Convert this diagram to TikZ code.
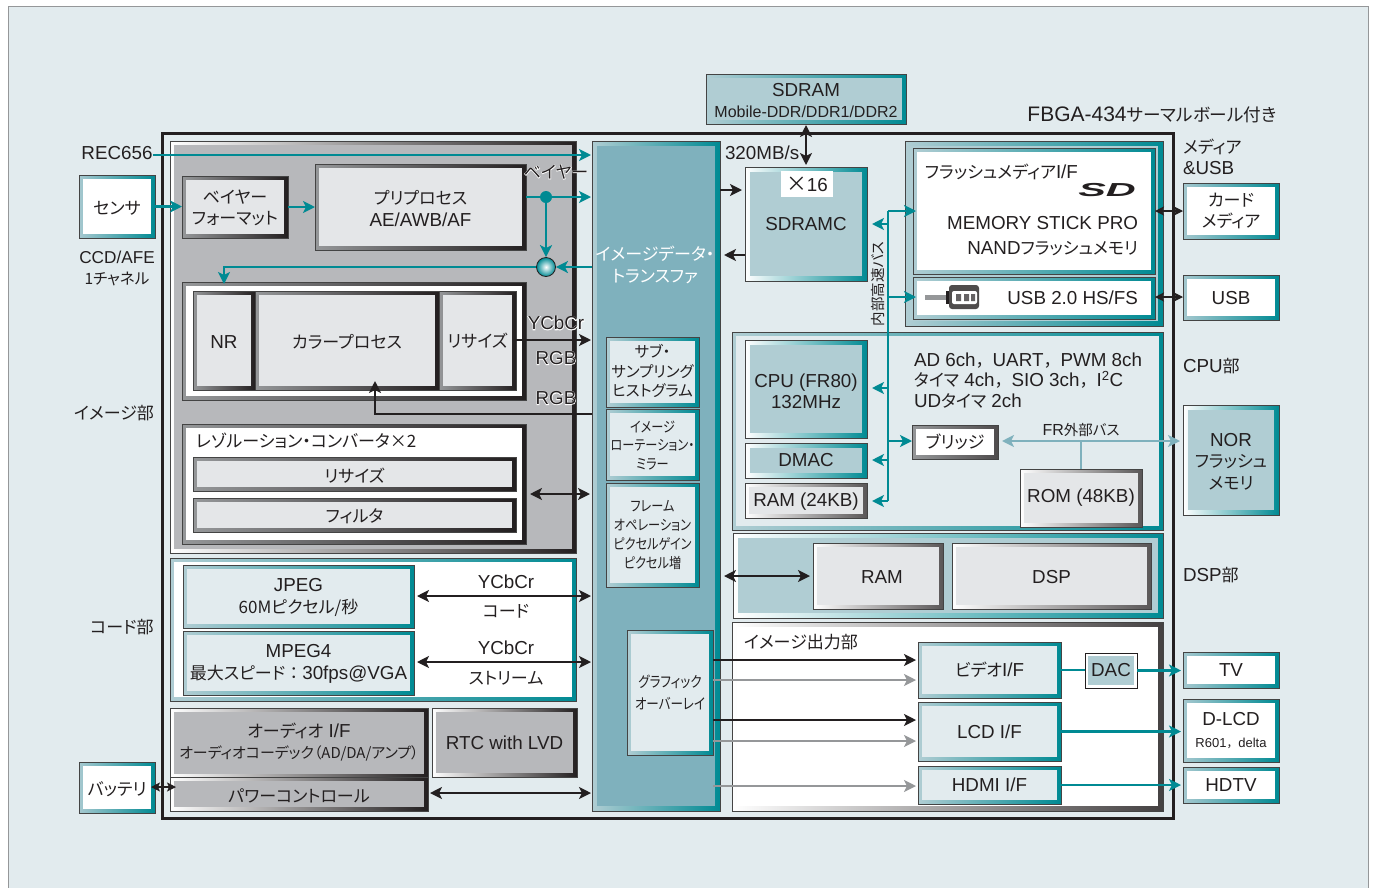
\documentclass[tikz,border=0pt]{standalone}
\usepackage{fontspec}
\usetikzlibrary{arrows.meta,calc}
\setmainfont{Liberation Sans}
\newfontfamily\jpf[Scale=0.905,RawFeature=+palt]{Noto Sans CJK JP}
\newfontfamily\jpw[Scale=0.905]{Noto Sans CJK JP}
\newfontfamily\jpc[Scale=0.905,FakeStretch=0.84,RawFeature=+palt]{Noto Sans CJK JP}
\newfontfamily\haloL[FakeBold=6]{Liberation Sans}
\newfontfamily\haloJ[Scale=0.905,FakeBold=6,RawFeature=+palt]{Noto Sans CJK JP}
\newcommand\J[1]{{\jpf #1}}
\newcommand\JW[1]{{\jpw #1}}
\newcommand\JC[1]{{\jpc #1}}
\newcommand\fa{\fontsize{18.8}{21.5}\selectfont}
\newcommand\fb{\fontsize{16}{20}\selectfont}
\newcommand\fd{\fontsize{17}{19.5}\selectfont}
\newcommand\fe{\fontsize{16}{18.8}\selectfont}
\newcommand\ff{\fontsize{16.5}{21.5}\selectfont}
\newcommand\haloLat[1]{\rlap{\color{white}\haloL #1}#1}
\newcommand\haloJp[1]{\rlap{\color{white}\haloJ #1}{\jpf #1}}
\definecolor{pagebg}{HTML}{E2EBEE}
\definecolor{tealD}{HTML}{008A93}
\definecolor{tealM}{HTML}{7FB1BD}
\definecolor{tealP}{HTML}{B0CDD3}
\definecolor{tealL}{HTML}{A5C8CF}
\definecolor{ink}{HTML}{231F20}
\definecolor{grayB}{HTML}{B7B8BB}
\definecolor{grayL}{HTML}{E4E6E8}
\definecolor{grayA}{HTML}{959799}
\definecolor{edge}{HTML}{444444}
\gdef\bxfont{\fa}\gdef\bxdy{1.5}\gdef\bxdx{0}
\tikzset{
 tf/.code={\gdef\bxfont{#1}},
 dy/.code={\gdef\bxdy{#1}},
 dx/.code={\gdef\bxdx{#1}},
 box/.style={rectangle,inner sep=0pt,outer sep=0pt,draw=edge,line width=.6pt},
 bev/.style n args={4}{left color=#1,right color=#2,
   path picture={\fill[#3] ([shift={(#4pt,#4pt)}]path picture bounding box.south west) rectangle ([shift={(-#4pt,-#4pt)}]path picture bounding box.north east);}},
 sensorbox/.style={bev={tealL}{tealD}{white}{4}},
 wtbox/.style={bev={white}{tealD}{tealP}{5}},
 ltbox/.style={bev={tealP}{tealD}{tealP}{4}},
 palebox/.style={bev={tealP}{tealD}{pagebg}{4}},
 dkbox/.style={bev={grayA}{ink}{grayL}{4}},
 frbox/.style={bev={grayA}{ink}{white}{4}},
 gybox/.style={bev={white}{ink}{grayB}{4}},
 wdbox/.style={bev={white}{ink!75}{grayL}{4}},
 lb/.style={inner sep=0pt,outer sep=0pt,align=center,font=\fa,text=ink},
 tealar/.style={draw=tealD,line width=2.6pt,-{Stealth[length=12pt,width=12pt,inset=3pt]}},
 tealln/.style={draw=tealD,line width=2.6pt},
 dkar/.style={draw=ink,line width=2.6pt,-{Stealth[length=12pt,width=12pt,inset=3pt]}},
 dkdbl/.style={draw=ink,line width=2.6pt,{Stealth[length=12pt,width=12pt,inset=3pt]}-{Stealth[length=12pt,width=12pt,inset=3pt]}},
 thindbl/.style={draw=ink,line width=1.2pt,{Stealth[length=9pt,width=9pt,inset=2pt]}-{Stealth[length=9pt,width=9pt,inset=2pt]}},
 gyar/.style={draw=grayA,line width=2.6pt,-{Stealth[length=12pt,width=12pt,inset=3pt]}},
 frbus/.style={draw=tealM,line width=2.4pt},
}
\newcommand\bx[7][]{\pgfmathsetmacro\bxW{#5-#3}\pgfmathsetmacro\bxH{#6-#4}\pgfmathsetmacro\bxX{(#3+#5)/2}\pgfmathsetmacro\bxY{(#4+#6)/2}\node[box,#1,minimum width=\bxW pt,minimum height=\bxH pt] (#2) at (\bxX,\bxY) {};\pgfmathsetmacro\bxTX{\bxX+\bxdx}\pgfmathsetmacro\bxTY{\bxY+\bxdy}\node[lb,font=\bxfont] (#2T) at (\bxTX,\bxTY) {#7};\gdef\bxfont{\fa}\gdef\bxdy{1.5}\gdef\bxdx{0}}
\newcommand\lv[2]{\coordinate (#1) at (0,#2);}
\begin{document}
\begin{tikzpicture}[x=1pt,y=-1pt]
\path[use as bounding box,fill=white] (0,0) rectangle (1374,887);
\bx[fill=pagebg,draw=grayA,line width=1pt]{page}{8}{6}{1368}{900}{}
\bx[fill=pagebg,draw=ink,line width=3pt]{chip}{162}{133}{1173}{818}{}
% image section
\bx[gybox]{imgsec}{170}{141}{576}{553}{}
\bx[sensorbox]{sensor}{79}{175}{155}{238}{\J{センサ}}
\bx[dkbox,dy=1]{bfmt}{182}{176}{288}{238}{\J{ベイヤー}\\\J{フォーマット}}
\bx[dkbox]{prep}{315}{164}{526}{250}{\J{プリプロセス}\\AE/AWB/AF}
\bx[frbox]{nrouter}{182}{282}{526}{400}{}
\bx[dkbox]{nr}{193}{291}{255}{390}{NR}
\bx[dkbox]{cp}{255}{291}{439}{390}{\J{カラープロセス}}
\bx[dkbox,dy=0]{rs}{439}{291}{516}{390}{\J{リサイズ}}
\bx[frbox]{resconv}{182}{424}{526}{544}{}
\node[lb,anchor=west] (restitle) at (196,441) {\J{レゾルーション・コンバータ×2}};
\bx[dkbox]{resz}{193}{457}{516}{491}{\J{リサイズ}}
\bx[dkbox]{filt}{193}{498}{516}{532}{\J{フィルタ}}
% code section
\bx[bev={tealP}{tealD}{white}{4}]{codesec}{170}{558}{576}{701}{}
\bx[palebox,dy=1]{jpeg}{183}{565}{414}{628}{JPEG\\\J{60Mピクセル/秒}}
\bx[palebox,dy=1]{mpeg}{183}{631}{414}{695}{MPEG4\\\J{最大スピード}\JW{：}30fps@VGA}
\node[lb] (yc1) at (506,582) {YCbCr};
\node[lb] (codelb) at (506,611) {\J{コード}};
\node[lb] (yc2) at (506,648) {YCbCr};
\node[lb] (strlb) at (506,678) {\J{ストリーム}};
% audio
\bx[gybox,tf={\fontsize{18.8}{21.5}\selectfont},dy=-1]{audio}{170}{708}{428}{778}{\J{オーディオ} I/F\\{\fontsize{16.5}{20}\selectfont\J{オーディオコーデック（AD/DA/アンプ）}}}
\bx[gybox]{power}{170}{777}{428}{811}{\J{パワーコントロール}}
\bx[gybox,dy=0]{rtc}{432}{708}{577}{777}{RTC with LVD}
\bx[sensorbox]{batt}{79}{762}{155}{813}{\J{バッテリ}}
% transfer
\bx[bev={tealP}{tealD}{tealM}{5}]{tr}{592}{141}{720}{811}{}
\node[lb,text=white] (trlb) at (655,265) {\J{イメージデータ・}\\\J{トランスファ}};
\bx[palebox,tf=\fd,dy=-1]{sub}{606}{337}{699}{407}{\J{サブ・}\\\J{サンプリング}\\\J{ヒストグラム}}
\bx[palebox,tf=\fe,dy=1]{rot}{606}{409}{699}{480}{\JC{イメージ}\\\JC{ローテーション・}\\\JC{ミラー}}
\bx[palebox,tf=\fe,dy=0]{frame}{606}{483}{699}{587}{\JC{フレーム}\\\JC{オペレーション}\\\JC{ピクセルゲイン}\\\JC{ピクセル増}}
\bx[palebox,tf=\ff,dy=0]{gfx}{627}{630}{713}{755}{\JC{グラフィック}\\\JC{オーバーレイ}}
% sdram
\bx[ltbox]{sdram}{706}{74}{906}{124}{SDRAM\\{\fb Mobile-DDR/DDR1/DDR2}}
\bx[wtbox,dy=0]{sdc}{745}{167}{867}{281}{SDRAMC}
\bx[fill=white,draw=none,dy=0]{x16}{781}{171}{833}{197}{{\fontsize{23}{23}\selectfont\J{×}}16}
\node[lb,anchor=west] (mbs) at (725,153) {320MB/s};
% media
\bx[bev={tealP}{tealD}{tealP}{5}]{media}{905}{141}{1163}{326}{}
\bx[bev={tealP}{tealD}{white}{4}]{flash}{913}{148}{1155}{274}{}
\bx[bev={tealP}{tealD}{white}{4}]{usbb}{913}{277}{1155}{319}{}
\node[lb,anchor=west] (flif) at (925,172) {\J{フラッシュメディア}I/F};
\node[lb,anchor=center] (sdlogo) at (1107,190) {\scalebox{2.2}[1]{\bfseries\itshape SD}};
\node[lb,anchor=east] (ms) at (1138,223) {MEMORY STICK PRO};
\node[lb,anchor=east] (nand) at (1138,249) {NAND\J{フラッシュメモリ}};
\node[lb,anchor=east] (usbt) at (1138,298) {USB 2.0 HS/FS};
\fill[grayA] (925,295) rectangle (946,300);
\fill[ink] (946,291) rectangle (952,304);
\fill[ink!80,rounded corners=3pt] (949,285) rectangle (979,309);
\fill[white,rounded corners=2pt] (952,291) rectangle (977,304);
\fill[ink!70] (956,294) rectangle (961,301) (964,294) rectangle (969,301) (971,294) rectangle (975,301);
% cpu
\bx[bev={tealP}{tealD}{pagebg}{4}]{cpusec}{732}{332}{1163}{530}{}
\bx[wtbox,dy=2.5]{cpu}{745}{340}{867}{438}{CPU (FR80)\\132MHz}
\bx[wtbox,dy=0]{dmac}{745}{443}{867}{478}{DMAC}
\bx[wdbox,dy=1]{ram24}{745}{483}{867}{518}{RAM (24KB)}
\node[lb,align=left,anchor=north west,font=\fontsize{18.8}{20.5}\selectfont] (periph) at (914,352.5) {AD 6ch\JW{，}UART\JW{，}PWM 8ch\\\J{タイマ} 4ch\JW{，}SIO 3ch\JW{，}I\textsuperscript{2}C\\UD\J{タイマ} 2ch};
\bx[bev={grayA}{ink!80}{white}{4},dy=0]{bridge}{912}{425}{998}{459}{\J{ブリッジ}}
\node[lb,font=\fb] (frbuslb) at (1081,430) {FR\J{外部バス}};
\bx[wdbox,dy=0]{rom}{1020}{469}{1142}{527}{ROM (48KB)}
% dsp
\bx[wtbox]{dspsec}{733}{533}{1163}{618}{}
\bx[wdbox,dx=4]{ramb}{813}{543}{943}{609}{RAM}
\bx[wdbox]{dsp}{952}{543}{1151}{609}{DSP}
% output
\bx[bev={white}{ink!85}{white}{5}]{outsec}{732}{622}{1163}{811}{}
\node[lb,anchor=west] (outlb) at (744,642) {\J{イメージ出力部}};
\bx[palebox,dy=0]{vid}{918}{642}{1061}{698}{\J{ビデオ}I/F}
\bx[palebox,dy=0]{lcd}{918}{702}{1061}{761}{LCD I/F}
\bx[palebox,dy=0]{hdmi}{918}{766}{1061}{804}{HDMI I/F}
\bx[bev={white}{white}{tealP}{3},draw=ink,dy=0]{dac}{1085}{653}{1137}{688}{DAC}
% externals
\bx[sensorbox,dy=0]{card}{1183}{183}{1279}{239}{\J{カード}\\\J{メディア}}
\bx[sensorbox,dy=1]{usb}{1183}{275}{1279}{320}{USB}
\bx[wtbox]{nor}{1183}{405}{1279}{515}{NOR\\\J{フラッシュ}\\\J{メモリ}}
\bx[sensorbox,dy=0]{tv}{1183}{652}{1279}{688}{TV}
\bx[sensorbox,dy=0]{dlcd}{1183}{699}{1279}{762}{D-LCD\\{\fontsize{13}{16}\selectfont R601\JW{，}delta}}
\bx[sensorbox,dy=0]{hdtv}{1183}{767}{1279}{803}{HDTV}
% outer labels
\node[lb] (rec) at (117,153) {REC656};
\node[lb,font=\fontsize{17.2}{21}\selectfont] (ccd) at (117,268) {CCD/AFE\\\J{1チャネル}};
\node[lb] (imglb) at (114,413) {\J{イメージ部}};
\node[lb] (codlb) at (122,627) {\J{コード部}};
\node[lb,anchor=east,font=\fontsize{21}{24}\selectfont] (fbga) at (1277,115) {FBGA-434{\fontsize{19.5}{24}\selectfont\J{サーマルボール付き}}};
\node[lb,align=left,anchor=west] (medlb) at (1183,157) {\J{メディア}\\\&USB};
\node[lb,anchor=west] (cpulb) at (1183,366) {CPU\J{部}};
\node[lb,anchor=west] (dsplb) at (1183,575) {DSP\J{部}};
\node[lb] (bay) at (556,172) {\haloJp{ベイヤー}};
\node[lb] (ycc) at (556,323) {\haloLat{YCbCr}};
\node[lb] (rgb1) at (556,358) {\haloLat{RGB}};
\node[lb] (rgb2) at (556,398) {\haloLat{RGB}};
\node[lb,rotate=90,font=\fb] (busl) at (878,284) {\J{内部高速バス}};
% levels
\lv{l155}{155}\lv{l190}{190}\lv{l211}{211}\lv{l224}{224}\lv{l255}{255}\lv{l297}{297}\lv{l340}{340}\lv{l388}{388}\lv{l414}{414}\lv{l441}{441}\lv{l460}{460}\lv{l494}{494}\lv{l501}{501}\lv{l576}{576}\lv{l596}{596}\lv{l660}{660}\lv{l662}{662}\lv{l680}{680}\lv{l720}{720}\lv{l741}{741}\lv{l786}{786}\lv{l793}{793}\lv{l197}{197}
\coordinate (bus) at (888,0);
\coordinate (cpin) at (375,381);
\coordinate (pwin) at (176,787);
\coordinate (batin) at (151,787);
% connectors
\draw[tealar,shorten >=1pt] (rec.east|-l155) -- (tr.west|-l155);
\draw[tealar] (sensor.east) -- (sensor.east-|bfmt.west);
\draw[tealar] (bfmt.east) -- (bfmt.east-|prep.west);
\node[circle,fill=tealD,minimum size=12pt,inner sep=0pt] (jd) at (546,197) {};
\node[circle,inner color=white,outer color=tealD,draw=ink,line width=.8pt,minimum size=19pt,inner sep=0pt] (mx) at (546,267) {};
\draw[tealar,shorten >=1pt] (prep.east|-jd) -- (tr.west|-jd);
\draw[tealar] (jd.south) -- (mx.north);
\draw[tealar] (tr.west|-mx) -- (mx.east);
\draw[tealar,shorten >=7pt] (mx.west) -| (nr.north);
\draw[dkar,shorten >=1pt] (rs.east|-l340) -- (tr.west|-l340);
\draw[dkar] (tr.west|-l414) -| (cpin);
\draw[dkdbl,shorten <=4pt,shorten >=2pt] (resconv.east|-l494) -- (tr.west|-l494);
\draw[dkdbl,shorten <=3pt,shorten >=1pt] (jpeg.east|-l596) -- (tr.west|-l596);
\draw[dkdbl,shorten <=3pt,shorten >=1pt] (mpeg.east|-l662) -- (tr.west|-l662);
\draw[dkdbl,shorten <=2pt,shorten >=1pt] (power.east|-l793) -- (tr.west|-l793);
\draw[thindbl] (batin) -- (pwin);
\draw[dkdbl,shorten <=1pt,shorten >=2pt] (sdram.south) -- (sdc.north);
\draw[dkar,shorten >=3pt] (tr.east|-l190) -- (sdc.west|-l190);
\draw[dkar,shorten >=4pt] (sdc.west|-l255) -- (tr.east|-l255);
\draw[tealln] (bus|-l211) -- (bus|-l501);
\draw[tealar,shorten >=-3pt] (bus|-l211) -- (flash.west|-l211);
\draw[tealar,shorten >=-3pt] (bus|-l297) -- (usbb.west|-l297);
\draw[tealar,shorten >=5pt] (bus|-l224) -- (sdc.east|-l224);
\draw[tealar,shorten >=5pt] (bus|-l388) -- (cpu.east|-l388);
\draw[tealar,shorten >=5pt] (bus|-l460) -- (dmac.east|-l460);
\draw[tealar,shorten >=5pt] (bus|-l501) -- (ram24.east|-l501);
\draw[tealar] (bus|-l441) -- (bridge.west|-l441);
\draw[thindbl] (flash.east|-l211) -- (card.west|-l211);
\draw[thindbl] (usbb.east|-l297) -- (usb.west|-l297);
\draw[frbus,{Stealth[length=12pt,width=12pt,inset=3pt]}-{Stealth[length=12pt,width=12pt,inset=3pt]},shorten <=4pt,shorten >=3pt] (bridge.east|-l441) -- (nor.west|-l441);
\draw[frbus] (rom.north) -- (rom.north|-l441);
\draw[dkdbl,shorten <=4pt,shorten >=3pt] (tr.east|-l576) -- (ramb.west|-l576);
\draw[dkar,shorten >=2pt] (gfx.east|-l660) -- (vid.west|-l660);
\draw[gyar,shorten >=2pt] (gfx.east|-l680) -- (vid.west|-l680);
\draw[dkar,shorten >=2pt] (gfx.east|-l720) -- (lcd.west|-l720);
\draw[gyar,shorten >=2pt] (gfx.east|-l741) -- (lcd.west|-l741);
\draw[gyar,shorten >=2pt] (gfx.east|-l786) -- (hdmi.west|-l786);
\draw[tealln] (vid.east) -- (vid.east-|dac.west);
\draw[tealar,shorten >=2pt] (dac.east) -- (dac.east-|tv.west);
\draw[tealar,shorten >=2pt] (lcd.east) -- (lcd.east-|dlcd.west);
\draw[tealar,shorten >=2pt] (hdmi.east) -- (hdmi.east-|hdtv.west);
\end{tikzpicture}
\end{document}
